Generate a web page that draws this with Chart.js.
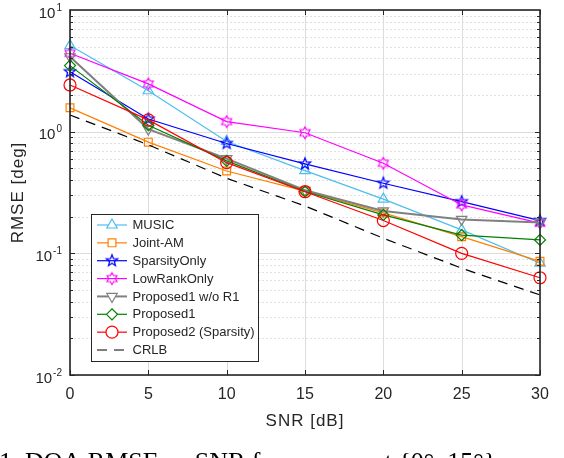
<!DOCTYPE html>
<html>
<head>
<meta charset="utf-8">
<script src="https://cdn.jsdelivr.net/npm/chart.js@4.4.1/dist/chart.umd.min.js"></script>
<style>
html,body{margin:0;padding:0;background:#fff;}
#wrap{position:relative;width:564px;height:458px;overflow:hidden;}
canvas{display:block;}
</style>
</head>
<body>
<div id="wrap"><canvas id="c" width="564" height="458"></canvas></div>
<script>
// ---- data ----
const snr = [0, 5, 10, 15, 20, 25, 30];
const xTickLabels = ['0', '5', '10', '15', '20', '25', '30'];
const yTickExponents = ['1', '0', '-1', '-2'];
const yDecades = [10, 1, 0.1, 0.01];
const seriesNames = ['MUSIC', 'Joint-AM', 'SparsityOnly', 'LowRankOnly', 'Proposed1 w/o R1', 'Proposed1', 'Proposed2 (Sparsity)', 'CRLB'];
const music        = [5.1, 2.17, 0.83, 0.478, 0.279, 0.156, 0.083];
const jointAM      = [1.57, 0.82, 0.475, 0.325, 0.215, 0.137, 0.086];
const sparsityOnly = [3.11, 1.27, 0.80, 0.543, 0.377, 0.266, 0.186];
const lowRankOnly  = [4.41, 2.47, 1.21, 0.98, 0.55, 0.25, 0.177];
const proposed1woR1= [4.13, 1.05, 0.60, 0.33, 0.223, 0.19, 0.179];
const proposed1    = [3.49, 1.13, 0.575, 0.322, 0.207, 0.141, 0.129];
const proposed2    = [2.42, 1.25, 0.556, 0.321, 0.186, 0.10, 0.063];
const crlb         = [1.37, 0.78, 0.414, 0.245, 0.133, 0.0755, 0.0455];

// ---- custom markers ----
function starCanvas(points, outerR, innerR, color, lw) {
  const s = 16, c = document.createElement('canvas');
  c.width = s; c.height = s;
  const g = c.getContext('2d');
  g.strokeStyle = color; g.lineWidth = lw;
  g.beginPath();
  for (let i = 0; i < points * 2; i++) {
    const r = (i % 2 === 0) ? outerR : innerR;
    const a = -Math.PI / 2 + i * Math.PI / points;
    const px = s / 2 + r * Math.cos(a), py = s / 2 + r * Math.sin(a);
    if (i === 0) g.moveTo(px, py); else g.lineTo(px, py);
  }
  g.closePath(); g.stroke();
  return c;
}
const pentagram = starCanvas(5, 6.0, 2.5, '#0000FF', 1.2);
const hexagram = starCanvas(6, 5.8, 3.4, '#FF00FF', 1.1);

const styles = [
  {color: '#4DBEEE', pointStyle: 'triangle', radius: 6, rot: 0, width: 1.2},
  {color: '#FF8000', pointStyle: 'rect', radius: 5.5, rot: 0, width: 1.2},
  {color: '#0000FF', pointStyle: pentagram, radius: 6, rot: 0, width: 1.2},
  {color: '#FF00FF', pointStyle: hexagram, radius: 6, rot: 0, width: 1.2},
  {color: '#808080', pointStyle: 'triangle', radius: 6, rot: 180, width: 2},
  {color: '#008000', pointStyle: 'rectRot', radius: 5.5, rot: 0, width: 1.2},
  {color: '#FF0000', pointStyle: 'circle', radius: 6, rot: 0, width: 1.2},
  {color: '#000000', pointStyle: false, radius: 0, rot: 0, width: 1.2, dash: [10, 7]}
];
const allSeries = [music, jointAM, sparsityOnly, lowRankOnly, proposed1woR1, proposed1, proposed2, crlb];

const datasets = allSeries.map((vals, i) => ({
  label: seriesNames[i],
  data: snr.map((x, k) => ({x: x, y: vals[k]})),
  borderColor: styles[i].color,
  backgroundColor: 'rgba(0,0,0,0)',
  borderWidth: styles[i].width,
  borderDash: styles[i].dash || [],
  pointStyle: styles[i].pointStyle,
  pointRadius: styles[i].radius,
  pointRotation: styles[i].rot,
  pointBorderWidth: 1.2,
  pointBorderColor: styles[i].color,
  pointBackgroundColor: 'rgba(0,0,0,0)',
  tension: 0,
  fill: false,
  clip: false,
  order: 10 - i
}));

const TXT = '#262626';
const FONT = '"Liberation Sans", Arial, Helvetica, sans-serif';

const decoPlugin = {
  id: 'deco',
  beforeDatasetsDraw(chart) {
    const {ctx, chartArea: a, scales: {x, y}} = chart;
    ctx.save();
    // minor dotted grid
    ctx.strokeStyle = '#e0e0e0'; ctx.lineWidth = 1; ctx.setLineDash([2, 2]);
    for (let d = 0; d < yDecades.length - 1; d++) {
      const base = yDecades[d + 1];
      for (let m = 2; m <= 9; m++) {
        const py = Math.round(y.getPixelForValue(base * m)) + 0.5;
        ctx.beginPath(); ctx.moveTo(a.left, py); ctx.lineTo(a.right, py); ctx.stroke();
      }
    }
    ctx.setLineDash([]);
    ctx.strokeStyle = '#dcdcdc';
    yDecades.forEach(v => {
      const py = Math.round(y.getPixelForValue(v)) + 0.5;
      ctx.beginPath(); ctx.moveTo(a.left, py); ctx.lineTo(a.right, py); ctx.stroke();
    });
    snr.forEach(v => {
      const px = Math.round(x.getPixelForValue(v)) + 0.5;
      ctx.beginPath(); ctx.moveTo(px, a.top); ctx.lineTo(px, a.bottom); ctx.stroke();
    });
    ctx.restore();
  },
  afterDraw(chart) {
    const {ctx, chartArea: a, scales: {x, y}} = chart;
    ctx.save();
    // axes box
    ctx.strokeStyle = TXT; ctx.lineWidth = 1.6;
    ctx.strokeRect(a.left, a.top, a.right - a.left, a.bottom - a.top);
    // tick marks
    ctx.lineWidth = 1;
    snr.forEach(v => {
      const px = Math.round(x.getPixelForValue(v)) + 0.5;
      ctx.beginPath(); ctx.moveTo(px, a.bottom); ctx.lineTo(px, a.bottom - 5);
      ctx.moveTo(px, a.top); ctx.lineTo(px, a.top + 5); ctx.stroke();
    });
    for (let d = 0; d < yDecades.length - 1; d++) {
      const base = yDecades[d + 1];
      for (let m = 1; m <= 9; m++) {
        const py = Math.round(y.getPixelForValue(base * m)) + 0.5;
        const len = m === 1 ? 5 : 3;
        ctx.beginPath(); ctx.moveTo(a.left, py); ctx.lineTo(a.left + len, py);
        ctx.moveTo(a.right, py); ctx.lineTo(a.right - len, py); ctx.stroke();
      }
    }
    // x tick labels
    ctx.fillStyle = TXT;
    ctx.font = '16px ' + FONT;
    ctx.textAlign = 'center'; ctx.textBaseline = 'middle';
    snr.forEach((v, i) => ctx.fillText(xTickLabels[i], x.getPixelForValue(v), a.bottom + 20));
    // y tick labels 10^n
    yDecades.forEach((v, i) => {
      const py = y.getPixelForValue(v);
      ctx.font = '10px ' + FONT;
      const supW = ctx.measureText(yTickExponents[i]).width;
      ctx.font = '15px ' + FONT;
      const baseW = ctx.measureText('10').width;
      const right = a.left - 8;
      ctx.textAlign = 'left'; ctx.textBaseline = 'alphabetic';
      ctx.fillText('10', right - supW - baseW - 1, py + 7.5);
      ctx.font = '10px ' + FONT;
      ctx.fillText(yTickExponents[i], right - supW, py + 0.5);
    });
    // axis titles
    try { ctx.letterSpacing = '1px'; } catch (e) {}
    ctx.font = '17px ' + FONT;
    ctx.textAlign = 'center'; ctx.textBaseline = 'middle';
    ctx.fillText('SNR [dB]', (a.left + a.right) / 2, 421);
    ctx.save();
    ctx.translate(18, (a.top + a.bottom) / 2);
    ctx.rotate(-Math.PI / 2);
    ctx.fillText('RMSE [deg]', 0, 0);
    ctx.restore();
    try { ctx.letterSpacing = '0px'; } catch (e) {}
    // caption (cut by the page bottom)
    ctx.font = '26px "Liberation Serif", "Times New Roman", serif';
    ctx.textAlign = 'left'; ctx.textBaseline = 'alphabetic';
    ctx.fillStyle = '#000';
    ctx.fillText('1. DOA RMSE vs SNR for sources at {0°, 15°}', -1, 470);

    // legend
    const lx0 = 91.5, ly0 = 214.5, lx1 = 258.5, ly1 = 361.5;
    ctx.fillStyle = '#fff';
    ctx.fillRect(lx0, ly0, lx1 - lx0, ly1 - ly0);
    ctx.strokeStyle = TXT; ctx.lineWidth = 1;
    ctx.strokeRect(lx0, ly0, lx1 - lx0, ly1 - ly0);
    chart.data.datasets.forEach((ds, i) => {
      const cy = 225 + i * 17.86;
      ctx.save();
      ctx.strokeStyle = ds.borderColor; ctx.lineWidth = ds.borderWidth;
      ctx.setLineDash(ds.borderDash || []);
      ctx.beginPath(); ctx.moveTo(97, cy); ctx.lineTo(127, cy); ctx.stroke();
      ctx.setLineDash([]);
      if (ds.pointStyle) {
        ctx.lineWidth = 1.2;
        ctx.fillStyle = '#fff';
        Chart.helpers.drawPoint(ctx, {pointStyle: ds.pointStyle, radius: ds.pointRadius, rotation: ds.pointRotation, borderWidth: 1.2}, 112, cy);
      }
      ctx.restore();
      ctx.fillStyle = TXT;
      ctx.font = '13px ' + FONT;
      ctx.textAlign = 'left'; ctx.textBaseline = 'middle';
      ctx.fillText(ds.label, 132.5, cy + 0.5);
    });
    ctx.restore();
  }
};

new Chart(document.getElementById('c'), {
  type: 'line',
  data: {datasets: datasets},
  options: {
    responsive: false,
    animation: false,
    devicePixelRatio: 1,
    layout: {padding: {left: 70, right: 24, top: 10, bottom: 83}},
    plugins: {legend: {display: false}, tooltip: {enabled: false}},
    scales: {
      x: {type: 'linear', min: 0, max: 30, display: false},
      y: {type: 'logarithmic', min: 0.01, max: 10, display: false}
    }
  },
  plugins: [decoPlugin]
});
</script>
</body>
</html>
